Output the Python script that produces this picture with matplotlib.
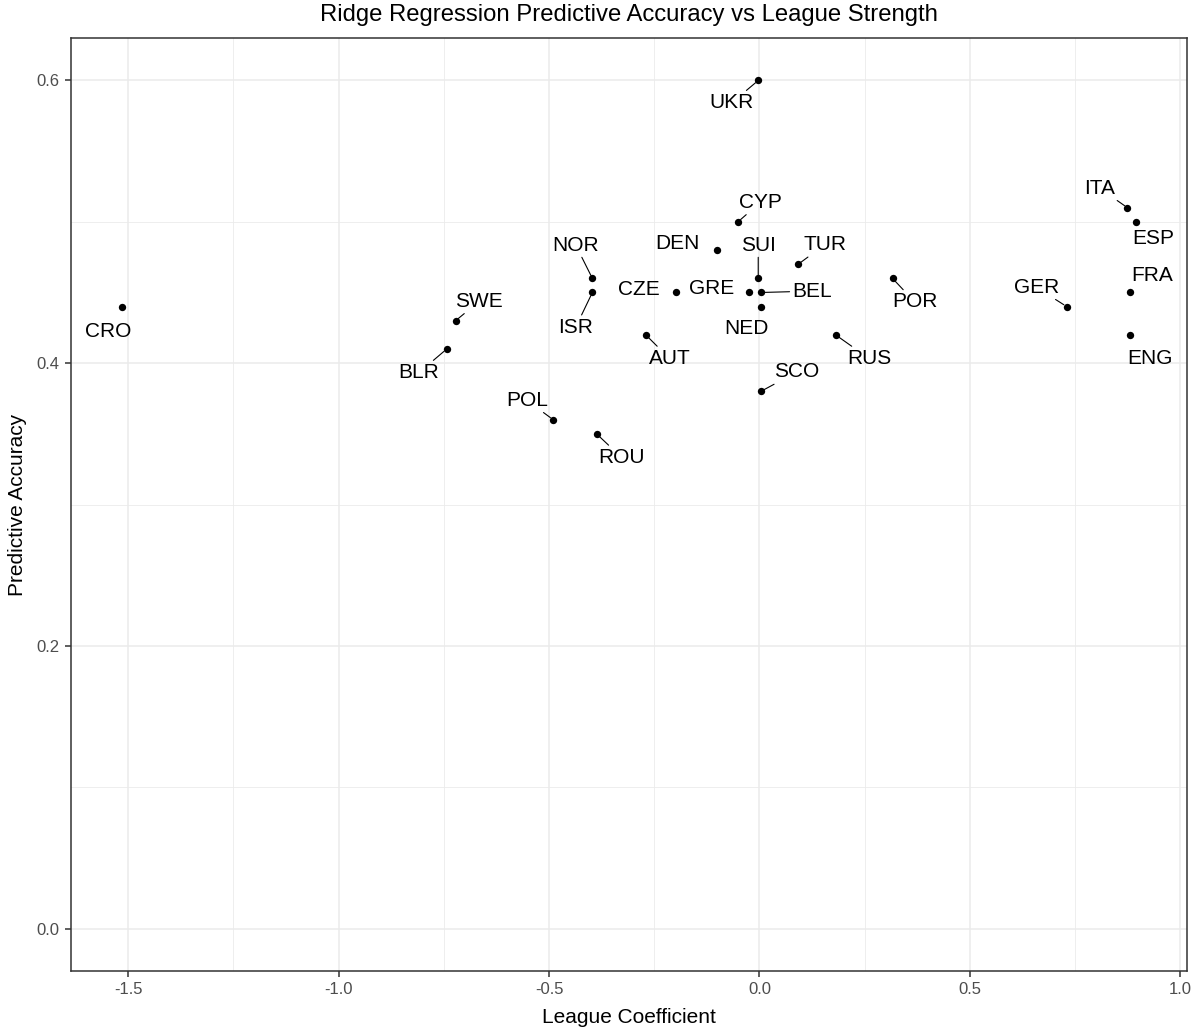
import matplotlib
matplotlib.use("Agg")
import matplotlib.pyplot as plt
from matplotlib.ticker import MultipleLocator

plt.rcParams['font.family'] = ['Liberation Sans', 'DejaVu Sans']
plt.rcParams['axes.unicode_minus'] = False

leagues = ["UKR", "CYP", "ITA", "ESP", "DEN", "SUI", "TUR", "NOR", "ISR", "CZE",
           "GRE", "BEL", "NED", "POR", "GER", "FRA", "ENG", "CRO", "SWE", "BLR",
           "AUT", "RUS", "SCO", "POL", "ROU"]
league_coef = [-0.003, -0.051, 0.874, 0.895, -0.102, -0.003, 0.092, -0.397, -0.397, -0.198,
               -0.024, 0.003, 0.003, 0.316, 0.730, 0.881, 0.881, -1.515, -0.722, -0.743,
               -0.270, 0.181, 0.003, -0.490, -0.387]
pred_acc = [0.60, 0.50, 0.51, 0.50, 0.48, 0.46, 0.47, 0.46, 0.45, 0.45,
            0.45, 0.45, 0.44, 0.46, 0.44, 0.45, 0.42, 0.44, 0.43, 0.41,
            0.42, 0.42, 0.38, 0.36, 0.35]

# label offsets in points (dx, dy; y up) and whether a connector is drawn
label_offsets = {
    "UKR": (-19, -16, True), "CYP": (16, 14, True), "ITA": (-20, 14, True),
    "ESP": (12, -12, False), "DEN": (-28, 5, False), "SUI": (0, 24, True),
    "TUR": (19, 14, True), "NOR": (-12, 24, True), "ISR": (-12, -25, True),
    "CZE": (-27, 2, False), "GRE": (-27, 3, False), "BEL": (37, 1, True),
    "NED": (-10, -16, False), "POR": (16, -17, True), "GER": (-22, 14, True),
    "FRA": (16, 12, False), "ENG": (14, -17, False), "CRO": (-10, -18, False),
    "SWE": (17, 14, True), "BLR": (-20, -17, True), "AUT": (17, -17, True),
    "RUS": (24, -17, True), "SCO": (26, 14, True), "POL": (-19, 14, True),
    "ROU": (18, -17, True),
}

fig = plt.figure(figsize=(11.95, 10.29), dpi=100)
ax = fig.add_axes([0.0594, 0.0564, 0.9339, 0.9066])

ax.scatter(league_coef, pred_acc, s=28, color="black", zorder=3, linewidths=0)

for name, x, y in zip(leagues, league_coef, pred_acc):
    dx, dy, seg = label_offsets[name]
    kw = {}
    if seg:
        kw["arrowprops"] = dict(arrowstyle="-", color="black", lw=0.8,
                                shrinkA=0, shrinkB=2.5)
    ax.annotate(name, xy=(x, y), xytext=(dx, dy), textcoords="offset points",
                ha="center", va="center", fontsize=15, color="black", zorder=4, **kw)

ax.set_xlim(-1.6355, 1.0155)
ax.set_ylim(-0.03, 0.63)
ax.xaxis.set_major_locator(MultipleLocator(0.5))
ax.xaxis.set_minor_locator(MultipleLocator(0.25))
ax.yaxis.set_major_locator(MultipleLocator(0.2))
ax.yaxis.set_minor_locator(MultipleLocator(0.1))
ax.xaxis.set_major_formatter(matplotlib.ticker.FormatStrFormatter('%.1f'))
ax.yaxis.set_major_formatter(matplotlib.ticker.FormatStrFormatter('%.1f'))

ax.grid(which="major", color="#EBEBEB", lw=1.1, zorder=0)
ax.grid(which="minor", color="#EBEBEB", lw=0.6, zorder=0)
ax.set_axisbelow(True)
for sp in ax.spines.values():
    sp.set_color("#333333")
    sp.set_linewidth(1.1)
ax.tick_params(which="major", length=4, width=1.1, color="#333333",
               labelsize=12, labelcolor="#4D4D4D", pad=4)
ax.tick_params(which="minor", length=0)

ax.set_xlabel("League Coefficient", fontsize=15, color="black", labelpad=8)
ax.set_ylabel("Predictive Accuracy", fontsize=15, color="black", labelpad=7)
ax.set_title("Ridge Regression Predictive Accuracy vs League Strength",
             fontsize=17.2, color="black", pad=12)

fig.savefig("out.png", dpi=100, facecolor="white")
